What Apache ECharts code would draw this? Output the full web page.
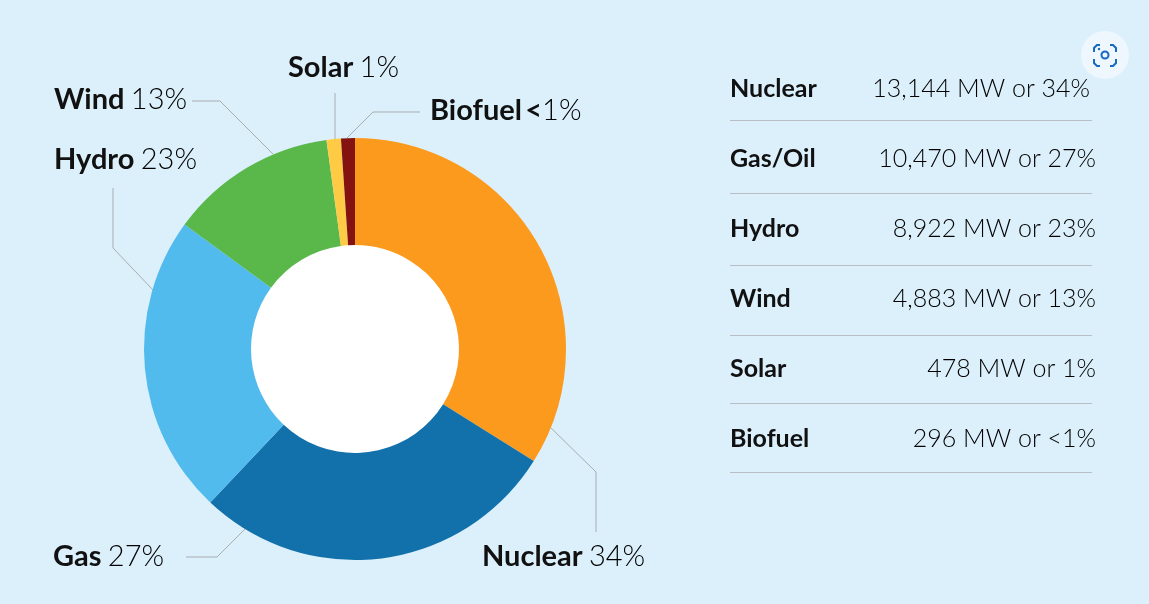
<!DOCTYPE html>
<html>
<head>
<meta charset="utf-8">
<style>
html,body{margin:0;padding:0;background:#DCF0FC;}
#showChart{width:1149px;height:604px;}
</style>
<script src="https://cdn.jsdelivr.net/npm/echarts@6/dist/echarts.min.js"></script>
</head>
<body>
<div id="showChart"></div>
<script>
var sources = ['Nuclear', 'Gas', 'Hydro', 'Wind', 'Solar', 'Biofuel'];
var tableNames = ['Nuclear', 'Gas/Oil', 'Hydro', 'Wind', 'Solar', 'Biofuel'];
//slice shares as measured on the ring
var sliceShares = [33.9, 28.1, 23.0, 12.8, 1.1, 1.06];
var percents = ['34%', '27%', '23%', '13%', '1%', '<1%'];
var tableValues = ['13,144 MW or 34%', '10,470 MW or 27%', '8,922 MW or 23%', '4,883 MW or 13%', '478 MW or 1%', '296 MW or <1%'];
var colors = ['#FC9A1E', '#1271AA', '#52BBEE', '#5AB84B', '#FFCB45', '#84130F'];

var fontName = 'Lato';
var textColor = '#000000';
var lineColor = '#a8adb0';

//label left edge and middle line, same order as sources
var labelSpots = [[482, 557], [53, 557], [54, 160], [54, 100], [288, 68], [430, 111]];
//leader lines, same order as sources
var leaders = [
	[[550, 427], [596, 472], [596, 532]],
	[[186, 557], [217, 557], [245, 529]],
	[[113, 188], [113, 248], [153, 290]],
	[[192, 101], [220, 101], [273, 154]],
	[[335, 93], [335, 139]],
	[[420, 112], [373, 112], [347, 138]]
];
var rowMiddles = [89, 159, 229, 299, 369, 439];
var rowRights = [1090, 1096, 1096, 1096, 1096, 1096];
var ruleLines = [120, 193, 265, 335, 403, 472];

var myChart = echarts.init(document.getElementById('showChart'), null, {renderer: 'canvas'});

var pieData = [];
for (var i = 0; i < sources.length; i++) {
	pieData.push({
		name: sources[i],
		value: sliceShares[i],
		itemStyle: {color: colors[i]}
	});
}

var shapes = [];
//white hole
shapes.push({
	type: 'circle',
	z: -1,
	shape: {cx: 355, cy: 349, r: 105},
	style: {fill: '#ffffff'}
});
for (var i = 0; i < leaders.length; i++) {
	shapes.push({
		type: 'polyline',
		shape: {points: leaders[i]},
		style: {stroke: lineColor, lineWidth: 1, fill: null}
	});
}
//table on the right
for (var i = 0; i < tableNames.length; i++) {
	shapes.push({
		type: 'text',
		x: 730,
		y: rowMiddles[i],
		style: {text: tableNames[i], fill: '#111111', font: 'bold 25px ' + fontName, textAlign: 'left', textVerticalAlign: 'middle'}
	});
	shapes.push({
		type: 'text',
		x: rowRights[i],
		y: rowMiddles[i],
		style: {text: tableValues[i], fill: textColor, font: '300 25px ' + fontName, textAlign: 'right', textVerticalAlign: 'middle'}
	});
	shapes.push({
		type: 'line',
		shape: {x1: 730, y1: ruleLines[i] + 0.5, x2: 1092, y2: ruleLines[i] + 0.5},
		style: {stroke: '#b9bfc3', lineWidth: 1}
	});
}
//round button top right
shapes.push({
	type: 'circle',
	shape: {cx: 1105, cy: 55, r: 24},
	style: {fill: '#EDF7FD'}
});
var cornerPaths = [
	[[1094, 52], [1094, 48], [1097, 45], [1100, 45]],
	[[1110, 45], [1113, 45], [1116, 48], [1116, 52]],
	[[1116, 59], [1116, 63], [1113, 66], [1110, 66]],
	[[1100, 66], [1097, 66], [1094, 63], [1094, 59]]
];
for (var i = 0; i < cornerPaths.length; i++) {
	shapes.push({
		type: 'polyline',
		shape: {points: cornerPaths[i]},
		style: {stroke: '#1769C4', lineWidth: 2, fill: null}
	});
}
shapes.push({
	type: 'circle',
	shape: {cx: 1105, cy: 55, r: 3.5},
	style: {stroke: '#1769C4', lineWidth: 2, fill: null}
});
shapes.push({
	type: 'circle',
	shape: {cx: 1099, cy: 49, r: 1.2},
	style: {fill: '#1769C4'}
});

var option = {
	backgroundColor: '#DCF0FC',
	animation: false,
	graphic: {elements: shapes},
	series: [{
		type: 'pie',
		center: [355, 349],
		radius: [104, 211],
		startAngle: 90,
		clockwise: true,
		silent: true,
		data: pieData,
		label: {
			show: true,
			position: 'outside',
			overflow: 'none',
			width: 300,
			formatter: function (params) {
				var pct = percents[params.dataIndex];
				//the < sign is set bold in the original
				if (pct.charAt(0) == '<') {
					return '{b|' + params.name + '} {b|<}{m|' + pct.substring(1) + '}';
				}
				return '{b|' + params.name + '} {n|' + pct + '}';
			},
			rich: {
				b: {fontFamily: fontName, fontWeight: 'bold', fontSize: 29, color: '#111111'},
				n: {fontFamily: fontName, fontWeight: 300, fontSize: 29, color: textColor, padding: [0, 0, 0, 3]},
				m: {fontFamily: fontName, fontWeight: 300, fontSize: 29, color: textColor}
			}
		},
		labelLine: {show: false},
		labelLayout: function (params) {
			return {
				x: labelSpots[params.dataIndex][0],
				y: labelSpots[params.dataIndex][1],
				align: 'left',
				verticalAlign: 'middle'
			};
		}
	}]
};
myChart.setOption(option);
</script>
</body>
</html>
